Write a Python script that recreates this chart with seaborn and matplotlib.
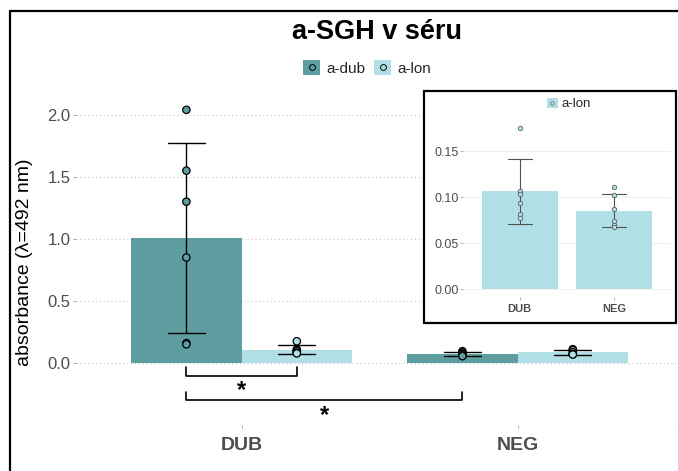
import pandas as pd
import matplotlib
matplotlib.use("Agg")
import matplotlib.pyplot as plt
from matplotlib.patches import Rectangle, Patch
from matplotlib.lines import Line2D
from matplotlib.legend_handler import HandlerTuple
import seaborn as sns

# ---- data -------------------------------------------------------------
groups = ["DUB", "NEG"]
antigens = ["a-dub", "a-lon"]

dub_DUB = [2.04, 1.55, 1.30, 0.85, 0.16, 0.15]
lon_DUB = [0.175, 0.107, 0.104, 0.094, 0.082, 0.077]
dub_NEG = [0.095, 0.085, 0.075, 0.070, 0.060, 0.055]
lon_NEG = [0.111, 0.103, 0.087, 0.074, 0.070, 0.068]

main_yticks = [0.0, 0.5, 1.0, 1.5, 2.0]
inset_yticks = [0.00, 0.05, 0.10, 0.15]
inset_yticklabels = ["0.00", "0.05", "0.10", "0.15"]

title = "a-SGH v séru"
ylabel = "absorbance (λ=492 nm)"
sig_mark = "*"

rows = []
for grp, ant, vals in [("DUB", "a-dub", dub_DUB), ("DUB", "a-lon", lon_DUB),
                       ("NEG", "a-dub", dub_NEG), ("NEG", "a-lon", lon_NEG)]:
    for v in vals:
        rows.append({"group": grp, "antigen": ant, "value": v})
df = pd.DataFrame(rows)

palette = {"a-dub": "#5f9ea0", "a-lon": "#b0e0e6"}
grey_txt = "#4d4d4d"

sns.set_theme(style="white")
plt.rcParams["font.family"] = ["Liberation Sans", "DejaVu Sans"]

W, H = 678, 471
fig = plt.figure(figsize=(W / 100, H / 100), dpi=100)


def fx(px):
    return px / W


def fy(py):
    return 1 - py / H


# ---- main panel -------------------------------------------------------
ax = fig.add_axes([fx(76), fy(425), (W - 76) / W, (425 - 90) / H])
sns.barplot(data=df, x="group", y="value", hue="antigen", order=groups,
            hue_order=antigens, palette=palette, saturation=1,
            errorbar="sd", capsize=0.27,
            err_kws={"color": "black", "linewidth": 1.0},
            linewidth=0, width=0.8, legend=False, ax=ax)
sns.stripplot(data=df, x="group", y="value", hue="antigen", order=groups,
              hue_order=antigens, palette=palette, dodge=True, jitter=False,
              size=5.3, edgecolor="black", linewidth=0.9, legend=False, ax=ax)
for coll in ax.collections:
    coll.set_zorder(5)

ax.set_xlim(-0.6, -0.6 + (W - 76) / 276)
ax.set_ylim(-0.5, 2.2)
ax.set_yticks(main_yticks)
ax.set_yticklabels([f"{t:.1f}" for t in main_yticks])
ax.set_xlabel("")
ax.set_ylabel("")
for s in ax.spines.values():
    s.set_visible(False)
ax.grid(False)
for t in main_yticks + [-0.5]:
    ax.axhline(t, color="#c4c4c4", linewidth=0.8, linestyle=(0, (1, 2.5)),
               zorder=0)
ax.tick_params(axis="y", labelsize=12, labelcolor=grey_txt, length=2.5,
               width=0.6, color="#999999", pad=1.5, left=True)
ax.tick_params(axis="x", labelsize=14, labelcolor=grey_txt, length=2.5,
               width=0.6, color="#999999", pad=6, bottom=True)
for lab in ax.get_xticklabels():
    lab.set_fontweight("bold")

# significance brackets
def bracket(x0, x1, ytop, ybot, xs, ys):
    ax.plot([x0, x0, x1, x1], [ytop, ybot, ybot, ytop], color="black",
            linewidth=1.2, clip_on=False, zorder=6)
    ax.text(xs, ys, sig_mark, ha="center", va="center", fontsize=17,
            fontweight="bold", color="black", zorder=6)

bracket(-0.2, 0.2, -0.035, -0.107, 0.0, -0.22)
bracket(-0.2, 0.8, -0.23, -0.30, 0.3, -0.42)

# ---- titles and main legend --------------------------------------------
fig.text(fx(377), fy(32), title, ha="center", va="center", fontsize=19.5,
         fontweight="bold", color="black")
fig.text(fx(25), fy(262), ylabel, ha="center", va="center", rotation=90,
         fontsize=14, color="black")


def key(color, ms, mew, edge):
    return (Patch(facecolor=color, edgecolor="none"),
            Line2D([], [], marker="o", linestyle="none", markersize=ms,
                   markerfacecolor=color, markeredgecolor=edge,
                   markeredgewidth=mew))


fig.legend(handles=[key(palette[a], 4.2, 0.7, "black") for a in antigens],
           labels=antigens, loc="center", bbox_to_anchor=(fx(367), fy(68)),
           ncol=2, frameon=False, fontsize=11, handlelength=1.1,
           handleheight=1.1, handletextpad=0.4, columnspacing=0.6,
           handler_map={tuple: HandlerTuple(ndivide=1)})

# ---- page frame -----------------------------------------------------------
fig.add_artist(Line2D([fx(10), fx(10)], [0, fy(11)], color="black",
                      linewidth=1.6, transform=fig.transFigure))
fig.add_artist(Line2D([fx(10), 1], [fy(11), fy(11)], color="black",
                      linewidth=1.6, transform=fig.transFigure))

# ---- inset: a-lon only ----------------------------------------------------
box = Rectangle((fx(424), fy(323)), (676 - 424) / W, (323 - 91) / H,
                transform=fig.transFigure, facecolor="white",
                edgecolor="black", linewidth=1.6, zorder=2)
fig.add_artist(box)

lon = df[df["antigen"] == "a-lon"]
axi = fig.add_axes([fx(463), fy(297), (671 - 463) / W, (297 - 120) / H])
axi.set_zorder(3)
sns.barplot(data=lon, x="group", y="value", order=groups,
            color=palette["a-lon"], saturation=1, errorbar="sd",
            capsize=0.25, err_kws={"color": "#505050", "linewidth": 0.8},
            linewidth=0, width=0.8, ax=axi)
sns.stripplot(data=lon, x="group", y="value", order=groups, jitter=False,
              color=palette["a-lon"], size=3.2, edgecolor="#606060",
              linewidth=0.6, ax=axi)
for coll in axi.collections:
    coll.set_zorder(5)
axi.set_xlim(-0.6, 1.6)
axi.set_ylim(-0.0084, 0.184)
axi.set_yticks(inset_yticks)
axi.set_yticklabels(inset_yticklabels)
axi.set_xlabel("")
axi.set_ylabel("")
for s in axi.spines.values():
    s.set_visible(False)
axi.grid(False)
for t in inset_yticks:
    axi.axhline(t, color="#f0f0f0", linewidth=0.8, zorder=0)
axi.tick_params(axis="y", labelsize=9, labelcolor=grey_txt, length=2,
                width=0.5, color="#999999", pad=1, left=True)
axi.tick_params(axis="x", labelsize=8, labelcolor=grey_txt, length=2,
                width=0.5, color="#999999", pad=3, bottom=True)
for lab in axi.get_xticklabels():
    lab.set_fontweight("bold")
axi.legend(handles=[key(palette["a-lon"], 2.6, 0.5, "#606060")],
           labels=["a-lon"], loc="center",
           bbox_to_anchor=(fx(569), fy(104)), bbox_transform=fig.transFigure,
           frameon=False, fontsize=9.5, handlelength=0.8, handleheight=0.8,
           handletextpad=0.3, handler_map={tuple: HandlerTuple(ndivide=1)})

fig.savefig("out.png", dpi=100)
